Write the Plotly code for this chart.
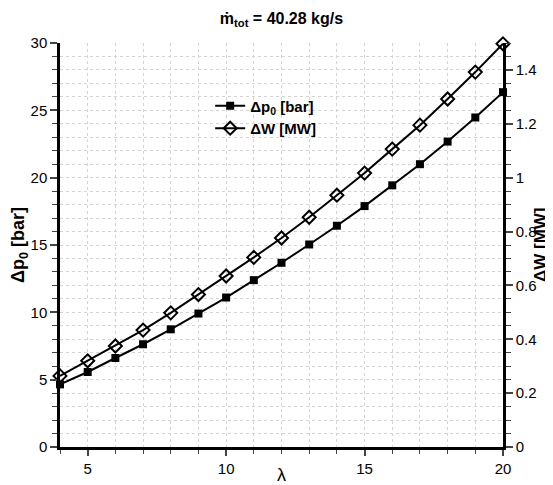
import plotly.graph_objects as go

lam = list(range(4, 21))
dp0_bar = [4.65, 5.57, 6.61, 7.63, 8.74, 9.91, 11.1, 12.39, 13.68, 15.04,
           16.43, 17.89, 19.43, 21.0, 22.68, 24.47, 26.35]
dW_MW = [0.264, 0.320, 0.375, 0.434, 0.498, 0.566, 0.635, 0.704, 0.776, 0.853,
         0.935, 1.017, 1.106, 1.195, 1.292, 1.392, 1.497]

FONT = "Liberation Sans, Arial, Helvetica, sans-serif"

fig = go.Figure()
fig.add_trace(go.Scatter(
    x=lam, y=dp0_bar, name="<b>Δp<sub>0</sub> [bar]</b>", mode="lines+markers",
    line=dict(color="black", width=2),
    marker=dict(symbol="square", size=8, color="black"),
    yaxis="y", cliponaxis=False))
fig.add_trace(go.Scatter(
    x=lam, y=dW_MW, name="<b>ΔW [MW]</b>", mode="lines+markers",
    line=dict(color="black", width=2),
    marker=dict(symbol="diamond-open", size=10, color="black", line=dict(width=2, color="black")),
    yaxis="y2", cliponaxis=False))

grid = dict(showgrid=True, gridcolor="#d4d4d4", griddash="dot", gridwidth=1)

fig.update_layout(
    width=545, height=477,
    margin=dict(l=52, r=50, t=35, b=38),
    paper_bgcolor="white", plot_bgcolor="white",
    font=dict(family=FONT, size=15, color="black"),
    title=dict(text="<b>ṁ<sub>tot</sub> = 40.28 kg/s</b>", x=0.5, xanchor="center",
               xref="paper", yref="container", y=0.979, yanchor="middle",
               font=dict(size=16)),
    showlegend=True,
    legend=dict(x=0.339, y=0.885, xanchor="left", yanchor="top",
                bgcolor="rgba(255,255,255,0)", borderwidth=0,
                font=dict(size=15), tracegroupgap=0),
    xaxis=dict(range=[4, 20], tick0=0, dtick=5, ticks="outside", ticklen=6, tickwidth=1.5,
               showline=True, linewidth=2.5, linecolor="black", zeroline=False,
               automargin=False,
               minor=dict(dtick=1, ticks="outside", ticklen=4, tickwidth=1, **grid),
               **grid),
    yaxis=dict(range=[0, 30], tick0=0, dtick=5, ticks="outside", ticklen=7, tickwidth=1.5,
               showline=True, linewidth=2.5, linecolor="black", zeroline=False,
               automargin=False,
               title=dict(text="<b>Δp<sub>0</sub> [bar]</b>", font=dict(size=18), standoff=15),
               minor=dict(dtick=1, ticks="outside", ticklen=5, tickwidth=1, **grid),
               **grid),
    yaxis2=dict(range=[0, 1.5], tick0=0, dtick=0.2, overlaying="y", side="right",
                ticks="outside", ticklen=7, tickwidth=1.5,
                showline=True, linewidth=2.5, linecolor="black", zeroline=False,
                showgrid=False, automargin=False,
                minor=dict(dtick=0.05, ticks="outside", ticklen=5, tickwidth=1, showgrid=False)),
    annotations=[
        dict(text="<b>ΔW [MW]</b>", textangle=-90, font=dict(size=17),
             xref="paper", yref="paper", x=1.0, xshift=37, y=0.5,
             xanchor="center", yanchor="middle", showarrow=False),
        dict(text="λ", font=dict(size=18),
             xref="paper", yref="paper", x=0.5, y=0.0, yshift=-28,
             xanchor="center", yanchor="middle", showarrow=False),
    ],
)

fig.write_html("out.html")
